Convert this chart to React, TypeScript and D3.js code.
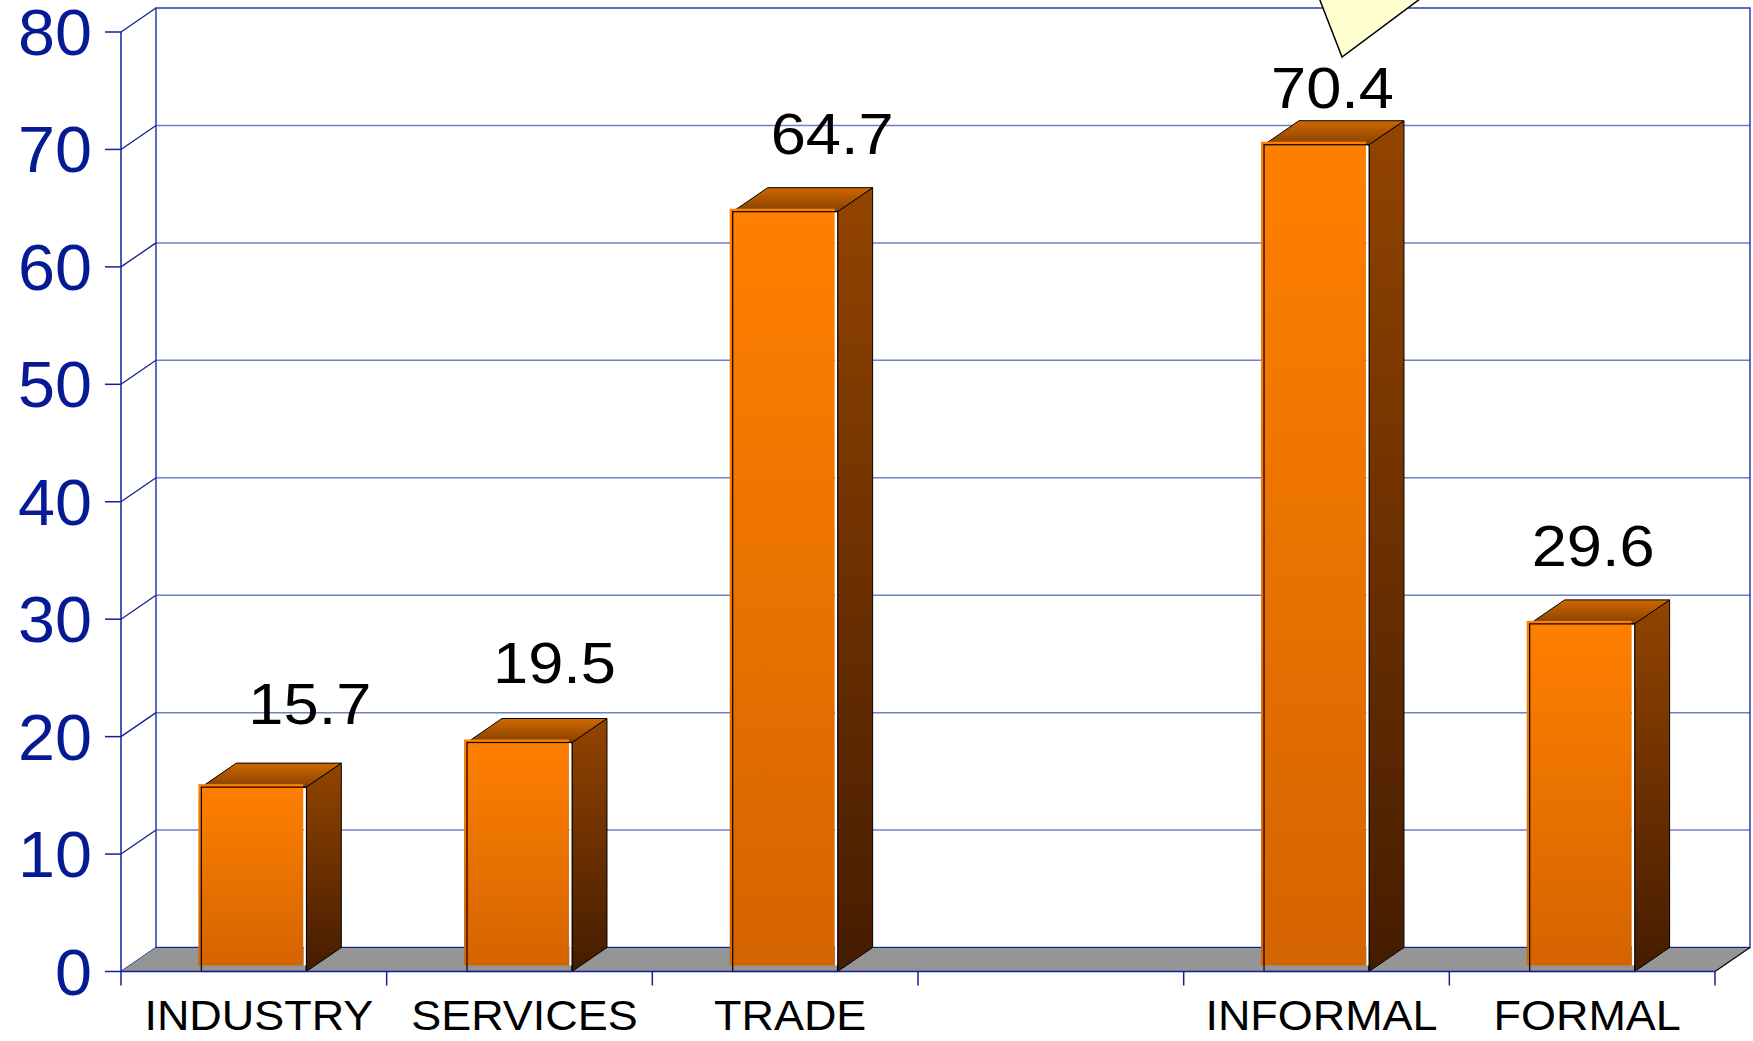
import React from "react";
import * as d3 from "d3";

// categories along the floor (the 4th slot is an empty gap in the original)
const categories = ["INDUSTRY", "SERVICES", "TRADE", "", "INFORMAL", "FORMAL"];
const values: (number | null)[] = [15.7, 19.5, 64.7, null, 70.4, 29.6];
const yTicks = [0, 10, 20, 30, 40, 50, 60, 70, 80];

// hand placement of the value labels (x shift from bar centre, lift above bar top)
const labelShift = [56, 35, 47, 0, 16, 11];
const labelLift = [39, 35, 34, 0, 13, 34];

const W = 1753;
const H = 1041;
const axisX = 121;
const floorY = 971.5;
const topY = 32;
const plotRight = 1715;
const dx = 35; // depth of the 3d wall
const dy = 24;

const blueDark = "#10229a";
const blueGrid = "#6f7fc8";
const font = "'Liberation Sans', Arial, sans-serif";

const App = () => {
  const y = d3.scaleLinear().domain([0, 80]).range([floorY, topY]);
  const x = d3
    .scaleBand<number>()
    .domain(categories.map((_, i) => i))
    .range([axisX, plotRight])
    .paddingInner(0.605)
    .paddingOuter(0.3025);
  const step = x.step();
  const bw = x.bandwidth();

  return (
    <div style={{ position: "fixed", left: 0, top: 0 }}>
      <svg width={W} height={H} style={{ display: "block", background: "#fff" }}>
        <defs>
          <linearGradient id="front" x1="0" y1="0" x2="0" y2="1">
            <stop offset="0%" stopColor="#ff8000" />
            <stop offset="100%" stopColor="#d46400" />
          </linearGradient>
          <linearGradient id="side" x1="0" y1="0" x2="0" y2="1">
            <stop offset="0%" stopColor="#934400" />
            <stop offset="100%" stopColor="#451c00" />
          </linearGradient>
          <linearGradient id="topface" x1="0" y1="0" x2="0" y2="1">
            <stop offset="0%" stopColor="#d06800" />
            <stop offset="100%" stopColor="#874000" />
          </linearGradient>
        </defs>

        {/* back wall grid */}
        {yTicks.slice(1, -1).map((t) => (
          <line key={"g" + t} x1={axisX + dx} x2={plotRight + dx} y1={y(t) - dy} y2={y(t) - dy}
            stroke={blueGrid} strokeWidth={1.5} />
        ))}
        <rect x={axisX + dx} y={y(80) - dy} width={plotRight - axisX} height={y(0) - y(80)}
          fill="none" stroke="#2a3aa8" strokeWidth={1.5} />
        {yTicks.map((t) => (
          <line key={"d" + t} x1={axisX} y1={y(t)} x2={axisX + dx} y2={y(t) - dy}
            stroke={blueDark} strokeWidth={1.3} />
        ))}

        {/* floor */}
        <polygon
          points={`${axisX},${floorY} ${axisX + dx},${floorY - dy} ${plotRight + dx},${floorY - dy} ${plotRight},${floorY}`}
          fill="#959595" stroke="none" />
        <line x1={axisX + dx} x2={plotRight + dx} y1={floorY - dy} y2={floorY - dy} stroke={blueDark} strokeWidth={1.2} />
        <line x1={plotRight} y1={floorY} x2={plotRight + dx} y2={floorY - dy} stroke="#000" strokeWidth={1.2} />

        {/* y axis */}
        <line x1={axisX} x2={axisX} y1={y(80)} y2={floorY + 14} stroke={blueDark} strokeWidth={1.5} />
        {yTicks.map((t) => (
          <g key={"t" + t}>
            <line x1={axisX - 16} x2={axisX} y1={y(t)} y2={y(t)} stroke={blueDark} strokeWidth={1.5} />
            <text transform={`translate(92,${y(t) + 23}) scale(1.04,1)`} textAnchor="end"
              fontFamily={font} fontSize={64} fill="#061a94">
              {t}
            </text>
          </g>
        ))}

        {/* bars */}
        {values.map((v, i) => {
          if (v === null) return null;
          const xl = x(i) as number;
          const xr = xl + bw;
          const yt = y(v);
          const y0 = y(0);
          return (
            <g key={"b" + i}>
              <polygon points={`${xr},${yt} ${xr + dx},${yt - dy} ${xr + dx},${y0 - dy} ${xr},${y0}`}
                fill="url(#side)" stroke="#000" strokeWidth={1} />
              <polygon points={`${xl},${yt} ${xl + dx},${yt - dy} ${xr + dx},${yt - dy} ${xr},${yt}`}
                fill="url(#topface)" stroke="#000" strokeWidth={1} />
              <rect x={xl - 3} y={yt - 3} width={bw} height={y0 - yt - 3} fill="url(#front)" />
              <rect x={xl} y={yt} width={bw} height={y0 - yt} fill="none" stroke="#000" strokeWidth={1.2} />
              <line x1={xr - 1.5} x2={xr - 1.5} y1={yt + 1} y2={y0 - 6} stroke="#fff" strokeWidth={2} />
              <text transform={`translate(${xl + bw / 2 + labelShift[i]},${yt - dy - labelLift[i]}) scale(1.09,1)`}
                textAnchor="middle" fontFamily={font} fontSize={58} fill="#000">
                {v.toFixed(1)}
              </text>
            </g>
          );
        })}

        {/* floor front edge + category ticks */}
        <line x1={axisX} x2={plotRight} y1={floorY} y2={floorY} stroke={blueDark} strokeWidth={1.5} />
        {categories.map((c, i) => (
          <g key={"c" + i}>
            <line x1={axisX + step * (i + 1)} x2={axisX + step * (i + 1)} y1={floorY} y2={floorY + 14}
              stroke={blueDark} strokeWidth={1.5} />
            <text transform={`translate(${(x(i) as number) + bw / 2 + 5},1030) scale(1.07,1)`}
              textAnchor="middle" fontFamily={font} fontSize={42} fill="#000">
              {c}
            </text>
          </g>
        ))}

        {/* callout pointer cut off at the top */}
        <polygon points="1316,-10 1342,57 1432,-10" fill="#ffffd2" stroke="#000" strokeWidth={1.5} />
      </svg>
    </div>
  );
};

export default App;
